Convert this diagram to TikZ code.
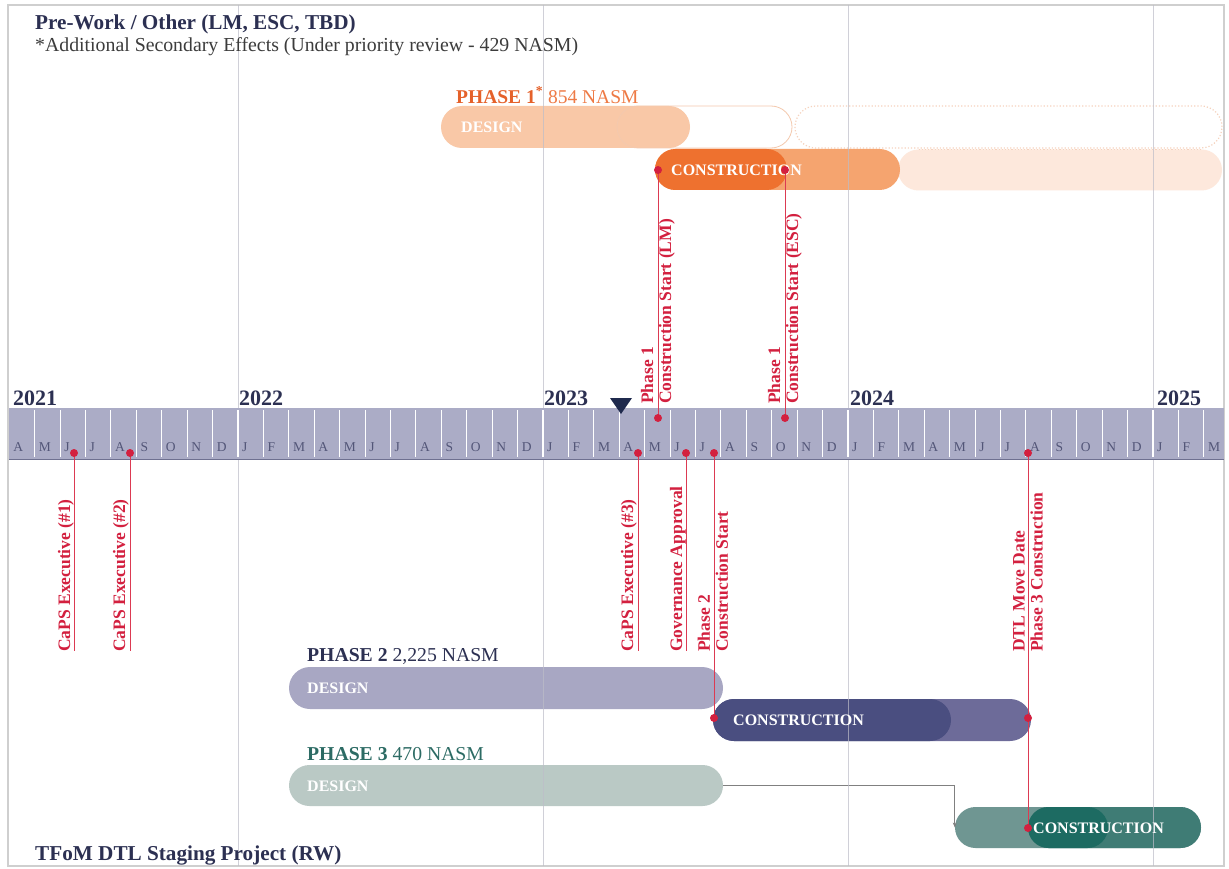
\documentclass[tikz,border=0pt]{standalone}
\usepackage{fontspec}
\setmainfont{Liberation Serif}
\usetikzlibrary{shapes.misc,arrows.meta}
\definecolor{navy}{HTML}{2C3052}
\definecolor{navyd}{HTML}{1F2A4D}
\definecolor{mred}{HTML}{D3203F}
\definecolor{redline}{HTML}{DC3A52}
\definecolor{subgray}{HTML}{3C3C3C}
\definecolor{p1title}{HTML}{E5612A}
\definecolor{p1sub}{HTML}{EE7A45}
\definecolor{p1design}{HTML}{F9C8A7}
\definecolor{p1outline}{HTML}{F4C9AE}
\definecolor{p1dash}{HTML}{F6D2BD}
\definecolor{p1pale}{HTML}{FDE8DC}
\definecolor{p1light}{HTML}{F5A46F}
\definecolor{p1dark}{HTML}{EE712F}
\definecolor{p2design}{HTML}{A8A7C3}
\definecolor{p2light}{HTML}{6D6B99}
\definecolor{p2dark}{HTML}{4A4E80}
\definecolor{p3title}{HTML}{2C6B64}
\definecolor{p3design}{HTML}{BAC9C5}
\definecolor{p3base}{HTML}{6F9692}
\definecolor{p3mid}{HTML}{3F7C75}
\definecolor{p3dark}{HTML}{1D6B62}
\definecolor{tlfill}{HTML}{ABACC6}
\definecolor{tlline}{HTML}{6E7090}
\definecolor{monthc}{HTML}{535678}
\definecolor{gridc}{HTML}{BDBDC8}
\definecolor{framec}{HTML}{CFCFCF}
\newcommand\myfs[1]{\fontsize{#1}{#1}\selectfont}
\newcommand\myfsl[2]{\fontsize{#1}{#2}\selectfont}
\begin{document}
\begin{tikzpicture}[x=1pt,y=-1pt,
  pill/.style={rounded rectangle, inner sep=0pt, minimum height=42pt, draw=none},
  bartext/.style={anchor=west, inner sep=0pt, text=white, font={\bfseries\myfs{16}}},
  mlabel/.style={rotate=90, anchor=west, inner sep=0pt, text=mred, align=left, font={\bfseries\myfsl{17.5}{18}}},
  redln/.style={draw=redline, line width=1pt},
  reddot/.style={fill=mred},
  yearlbl/.style={anchor=west, inner sep=0pt, text=navy, font={\bfseries\myfs{22}}},
  monthlbl/.style={anchor=west, inner sep=0pt, text=monthc, font={\myfs{13.5}}},
  plain/.style={anchor=west, inner sep=0pt},
  conn/.style={draw=gray, line width=0.8pt, -{Stealth[length=5pt,width=4pt]}}
]
\useasboundingbox (0,0) rectangle (1229,869);
\fill[white] (0,0) rectangle (1229,869);
\draw[framec, line width=1.5pt] (8,5) rectangle (1224,866);

% ---------- Phase 1 bars
\node[pill, fill=p1design, minimum width=249pt] (p1d) at (565.5,127) {};
\node[pill, draw=p1outline, line width=0.8pt, minimum width=175pt] (p1o) at (704.5,127) {};
\node[pill, draw=p1dash, dotted, line width=1.2pt, minimum width=427pt] (p1x) at (1008.5,127) {};
\node[pill, fill=p1pale, minimum width=324pt, minimum height=41pt] (p1y) at (1060,170) {};
\draw[p1dash, dotted, line width=1.2pt] (p1y.north west) -- (p1y.north east);
\node[pill, fill=p1light, minimum width=245pt, minimum height=41pt] (p1c) at (777.5,169.5) {};
\node[pill, fill=p1dark, minimum width=132pt, minimum height=41pt] (p1cd) at (721,169.5) {};

% ---------- Phase 2 bars
\node[pill, fill=p2design, minimum width=434pt] (p2d) at (506,688) {};
\node[pill, fill=p2light, minimum width=318pt] (p2c) at (872,720) {};
\node[pill, fill=p2dark, minimum width=238pt] (p2cd) at (832,720) {};

% ---------- Phase 3 bars
\node[pill, fill=p3design, minimum width=434pt, minimum height=41pt] (p3d) at (506,785.5) {};
\node[pill, fill=p3base, minimum width=246pt, minimum height=41pt] (p3c) at (1078,827.5) {};
\node[pill, fill=p3mid, minimum width=173pt, minimum height=41pt] (p3cm) at (1114.5,827.5) {};
\node[pill, fill=p3dark, minimum width=80pt, minimum height=41pt] (p3cd) at (1068,827.5) {};
\draw[conn] (p3d.east) -| (p3c.west);

% ---------- grid lines
\foreach \gx in {238,543,848,1153} \draw[gridc, line width=1pt, opacity=0.7] (\gx,5) -- (\gx,866);

% ---------- bar texts
\node[bartext] (t1d) at (461,127) {DESIGN};
\node[bartext] (t1c) at (671,170) {CONSTRUCTION};
\node[bartext] (t2d) at (307,688) {DESIGN};
\node[bartext] (t2c) at (733,720) {CONSTRUCTION};
\node[bartext] (t3d) at (307,786) {DESIGN};
\node[bartext] (t3c) at (1033,828) {CONSTRUCTION};

% ---------- timeline
\fill[tlfill] (9,408) rectangle (1224,460);
\foreach \i in {1,...,47} {
  \pgfmathsetmacro\sx{238+25.417*(\i-9)}
  \draw[white, line width=1.1pt] (\sx,410) -- (\sx,457);
}
\draw[tlline, line width=1.5pt] (9,459.5) -- (1224,459.5);
\foreach \m [count=\i from 0] in {A,M,J,J,A,S,O,N,D,J,F,M,A,M,J,J,A,S,O,N,D,J,F,M,A,M,J,J,A,S,O,N,D,J,F,M,A,M,J,J,A,S,O,N,D,J,F,M} {
  \pgfmathsetmacro\lx{238+25.417*(\i-9)+4}
  \node[monthlbl] (mon\i) at (\lx,447) {\m};
}
\node[yearlbl] (y2021) at (13,398) {2021};
\node[yearlbl] (y2022) at (239,398) {2022};
\node[yearlbl] (y2023) at (544,398) {2023};
\node[yearlbl] (y2024) at (850,398) {2024};
\node[yearlbl] (y2025) at (1157,398) {2025};
\fill[navyd] (610,398) -- (632,398) -- (621,414) -- cycle;

% ---------- milestones
\coordinate (lmA) at (658,418);  \coordinate (lmB) at (658,170);
\coordinate (escA) at (785,418); \coordinate (escB) at (785,170);
\coordinate (c1A) at (74,453);   \coordinate (c1B) at (74,651);
\coordinate (c2A) at (130,453);  \coordinate (c2B) at (130,651);
\coordinate (c3A) at (638,453);  \coordinate (c3B) at (638,651);
\coordinate (govA) at (686,453); \coordinate (govB) at (686,651);
\coordinate (p2A) at (714,453);  \coordinate (p2B) at (714,718);
\coordinate (dtlA) at (1028,453); \coordinate (dtlM) at (1028,718); \coordinate (dtlB) at (1028,828);

\draw[redln] (lmA) -- (lmB);
\draw[redln] (escA) -- (escB);
\draw[redln] (c1A) -- (c1B);
\draw[redln] (c2A) -- (c2B);
\draw[redln] (c3A) -- (c3B);
\draw[redln] (govA) -- (govB);
\draw[redln] (p2A) -- (p2B);
\draw[redln] (dtlA) -- (dtlB);
\foreach \c in {lmA,lmB,escA,escB,c1A,c2A,c3A,govA,p2A,p2B,dtlA,dtlM,dtlB}
  \fill[reddot] (\c) circle[radius=4pt];

\node[mlabel] (lmL) at (658,404) {Phase 1\\Construction Start (LM)};
\node[mlabel] (escL) at (785,404) {Phase 1\\Construction Start (ESC)};
\node[mlabel] (c1L) at (66,652) {CaPS Executive (\#1)};
\node[mlabel] (c2L) at (121,652) {CaPS Executive (\#2)};
\node[mlabel] (c3L) at (629,652) {CaPS Executive (\#3)};
\node[mlabel] (govL) at (678,652) {Governance Approval};
\node[mlabel] (p2L) at (713,652) {Phase 2\\Construction Start};
\node[mlabel] (dtlL) at (1028,652) {DTL Move Date\\Phase 3 Construction};

% ---------- titles
\node[plain, text=navy, font={\bfseries\myfs{21.2}}] (title) at (35,24) {Pre-Work / Other (LM, ESC, TBD)};
\node[plain, text=subgray, font={\myfs{19.8}}] (sub) at (35,47) {*Additional Secondary Effects (Under priority review - 429 NASM)};
\node[plain, text=p1sub, font={\myfs{19.5}}] (ph1) at (456,95) {\textcolor{p1title}{\bfseries PHASE 1\textsuperscript{*}} 854 NASM};
\node[plain, text=navy, font={\myfs{19.7}}] (ph2) at (307,656) {\textbf{PHASE 2} 2,225 NASM};
\node[plain, text=p3title, font={\myfs{19.7}}] (ph3) at (307,754) {\textbf{PHASE 3} 470 NASM};
\node[plain, text=navy, font={\bfseries\myfs{21.2}}] (foot) at (35,855) {TFoM DTL Staging Project (RW)};
\end{tikzpicture}
\end{document}
